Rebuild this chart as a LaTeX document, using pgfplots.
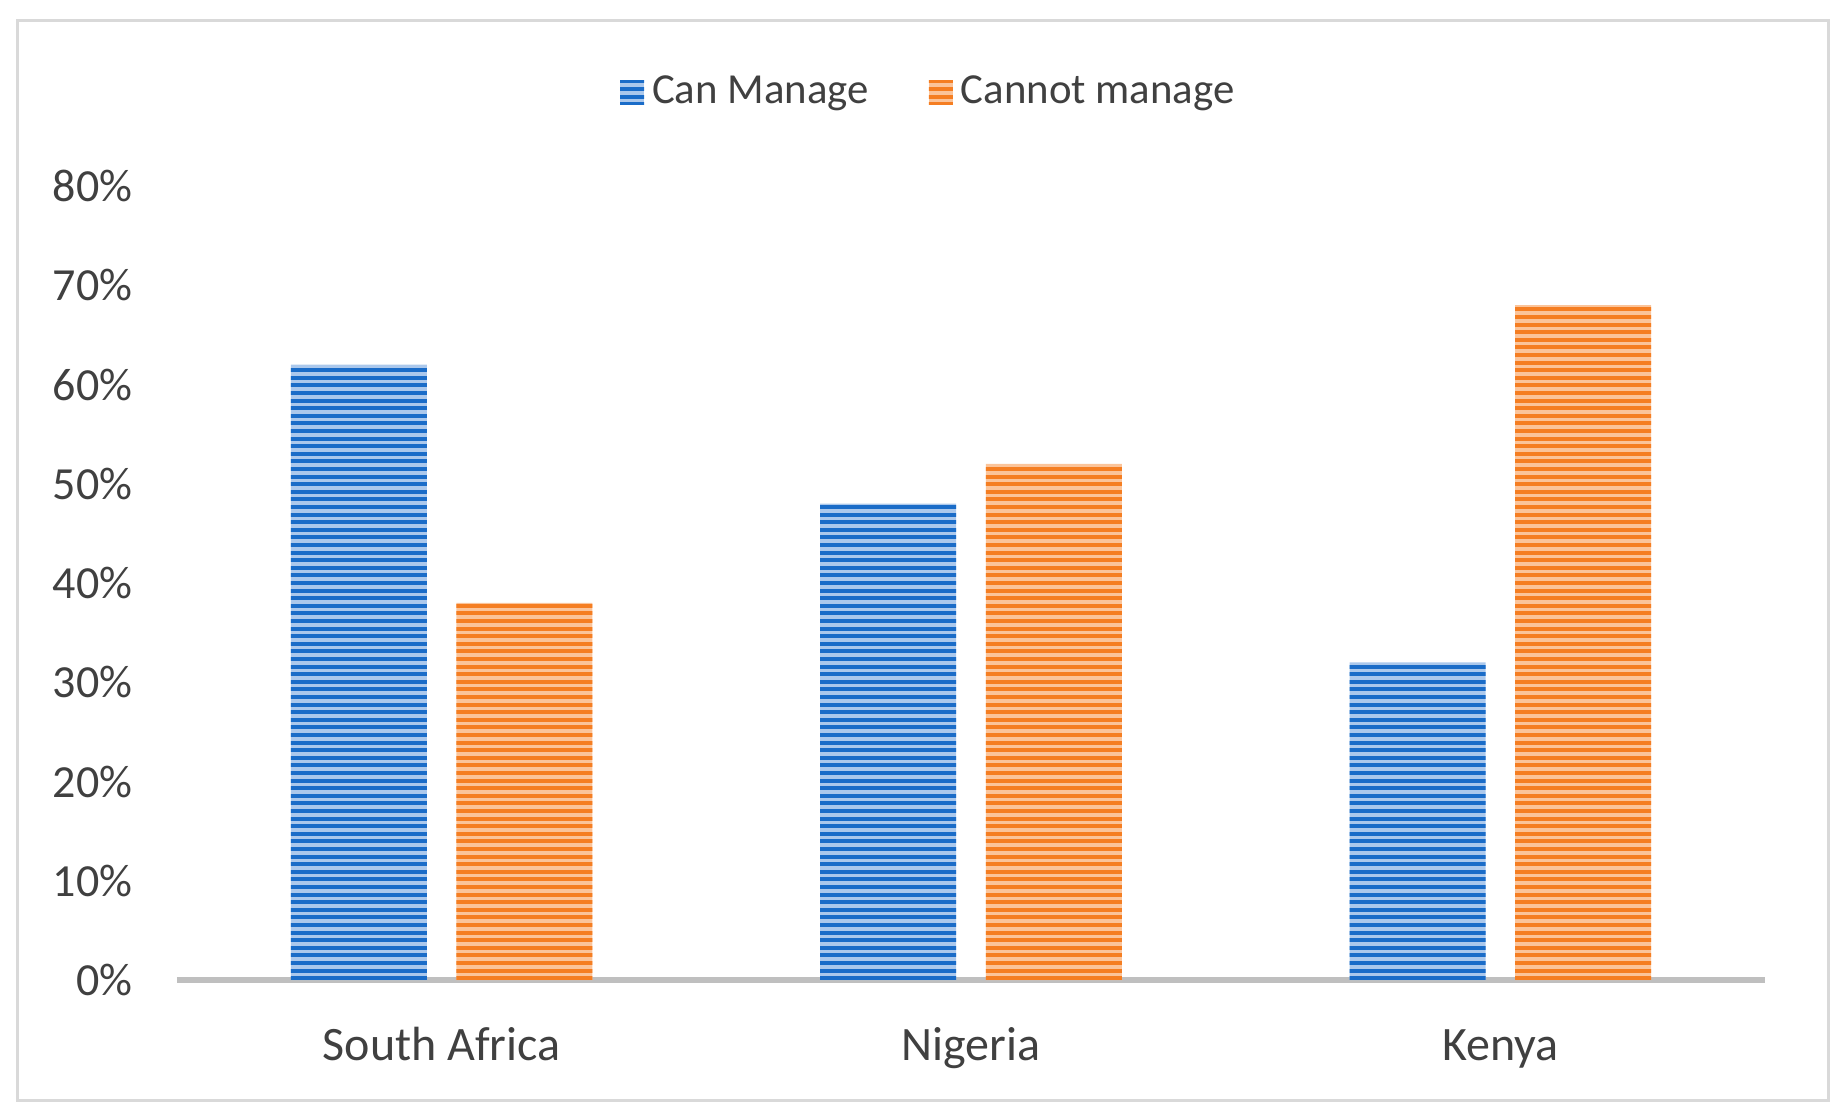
\documentclass[border=0pt]{standalone}
\usepackage{pgfplots}
\pgfplotsset{compat=1.18}
\usepackage{fontspec}
\setmainfont{Carlito}
\usetikzlibrary{patterns}

\definecolor{blueD}{HTML}{1A6CC8}
\definecolor{blueL}{HTML}{ABC8EC}
\definecolor{orangeD}{HTML}{F57E22}
\definecolor{orangeL}{HTML}{FBC49A}
\definecolor{txt}{HTML}{404040}

% thin horizontal stripes, as in the source chart
\pgfdeclarepatternformonly{hstripes}{\pgfpointorigin}{\pgfqpoint{100pt}{1pt}}{\pgfqpoint{100pt}{1.9pt}}{
  \pgfsetlinewidth{1pt}
  \pgfpathmoveto{\pgfqpoint{0pt}{0.5pt}}
  \pgfpathlineto{\pgfqpoint{100pt}{0.5pt}}
  \pgfusepath{stroke}
}

\pgfplotstableread{
x  can  cannot
0  62   38
1  48   52
2  32   68
}\mgmt

\begin{document}
\begin{tikzpicture}
\begin{axis}[
    scale only axis,
    width=397pt, height=198.5pt,
    xmin=-0.5, xmax=2.5,
    ymin=0, ymax=80,
    xtick=data,
    xticklabels={South Africa, Nigeria, Kenya},
    ytick={0,10,...,80},
    yticklabel={\pgfmathprintnumber{\tick}\%},
    /pgf/number format/assume math mode=true,
    axis lines=left,
    axis line style={-},
    y axis line style={draw=none},
    x axis line style={draw=black!25, line width=1.7pt},
    major tick length=0pt,
    tick style={draw=none},
    yticklabel style={anchor=east, inner sep=0pt, xshift=-11pt,
        font=\fontsize{11.5}{13}\selectfont, text=txt},
    xticklabel style={anchor=base, inner sep=0pt, yshift=-20pt,
        font=\fontsize{12}{14}\selectfont, text=txt},
    clip=false,
    legend columns=2,
    legend style={at={(0.475,1.118)}, anchor=center, draw=none, fill=none,
        font=\fontsize{10.7}{12}\selectfont, text=txt,
        /tikz/every even column/.append style={column sep=13pt}},
    legend image code/.code={
        \fill[#1] (0pt,-3pt) rectangle (6pt,3pt);
    },
]
\addplot[ybar, bar width=34pt, bar shift=-20.7pt, draw=none, fill=blueL,
    postaction={pattern=hstripes, pattern color=blueD}]
    table[x=x, y=can] {\mgmt};
\addlegendentry{Can Manage}
\addplot[ybar, bar width=34pt, bar shift=20.7pt, draw=none, fill=orangeL,
    postaction={pattern=hstripes, pattern color=orangeD}]
    table[x=x, y=cannot] {\mgmt};
\addlegendentry{Cannot manage}
\end{axis}
\draw[black!15, line width=0.75pt] (-39.8pt,-30pt) rectangle (412.75pt,240pt);
\useasboundingbox (-44.25pt,-34.25pt) rectangle (415.75pt,245pt);
\end{tikzpicture}
\end{document}
